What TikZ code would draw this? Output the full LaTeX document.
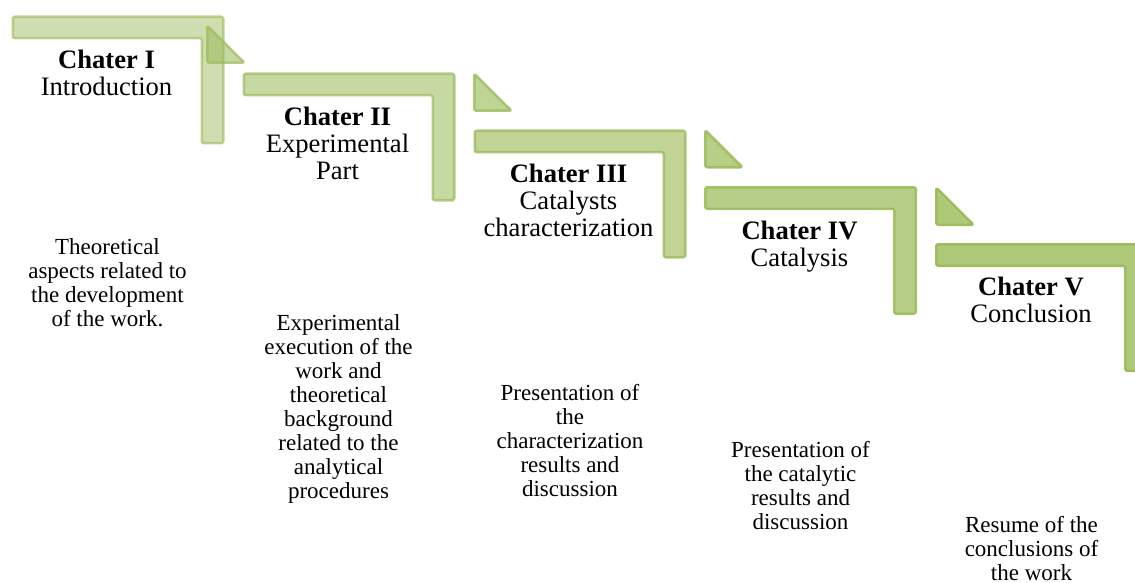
\documentclass[tikz,border=0pt]{standalone}
\usepackage{fontspec}
\setmainfont{Liberation Serif}
\definecolor{olivegreen}{RGB}{155,187,89}
\begin{document}
\begin{tikzpicture}[x=1pt,y=-1pt]
\useasboundingbox (0,0) rectangle (1135,583);
\tikzset{
  stepshape/.style={fill=olivegreen, draw=olivegreen, line width=2.5pt, rounded corners=2pt, line join=round},
  titletext/.style={align=center, inner sep=0pt, anchor=north, font=\fontsize{26.6}{27}\selectfont},
  desctext/.style={align=center, inner sep=0pt, anchor=north, font=\fontsize{23}{24}\selectfont},
}
\newcommand\LStep[4]{% x0, y0, fill opacity, draw opacity
  \path[stepshape, fill opacity=#3, draw opacity=#4]
    (#1+1.25,#2+1.25) -- (#1+211.75,#2+1.25) -- (#1+211.75,#2+127.75)
    -- (#1+190.25,#2+127.75) -- (#1+190.25,#2+22.75) -- (#1+1.25,#2+22.75) -- cycle;
}
\newcommand\TStep[4]{% x0 (left), y0 (top), fill opacity, draw opacity
  \path[stepshape, fill opacity=#3, draw opacity=#4]
    (#1+1.25,#2+1.25) -- (#1+1.25,#2+38.25) -- (#1+38.5,#2+38.25) -- cycle;
}
% L-shaped steps
\LStep{11.5}{15.5}{0.48}{0.64}
\LStep{242.5}{72.5}{0.56}{0.72}
\LStep{473.5}{129.5}{0.64}{0.80}
\LStep{704}{186}{0.72}{0.88}
\LStep{935}{243}{0.80}{0.96}
% triangles
\TStep{206}{24.5}{0.56}{0.72}
\TStep{473}{72.5}{0.64}{0.80}
\TStep{704}{129}{0.72}{0.88}
\TStep{935}{186.5}{0.80}{0.96}
% titles
\node[titletext] (t1) at (106.5,49.6) {\strut\textbf{Chater I}\\Introduction};
\node[titletext] (t2) at (337.5,106.4) {\strut\textbf{Chater II}\\Experimental\\Part};
\node[titletext] (t3) at (568.5,163.1) {\strut\textbf{Chater III}\\Catalysts\\characterization};
\node[titletext] (t4) at (799.5,219.9) {\strut\textbf{Chater IV}\\Catalysis};
\node[titletext] (t5) at (1031,276.6) {\strut\textbf{Chater V}\\Conclusion};
% descriptions
\node[desctext] (d1) at (107.5,237.2) {\strut Theoretical\\aspects related to\\the development\\of the work.};
\node[desctext] (d2) at (338.5,313.2) {\strut Experimental\\execution of the\\work and\\theoretical\\background\\related to the\\analytical\\procedures};
\node[desctext] (d3) at (570,383.2) {\strut Presentation of\\the\\characterization\\results and\\discussion};
\node[desctext] (d4) at (800.5,440.2) {\strut Presentation of\\the catalytic\\results and\\discussion};
\node[desctext] (d5) at (1031.5,515.2) {\strut Resume of the\\conclusions of\\the work};
\end{tikzpicture}
\end{document}
